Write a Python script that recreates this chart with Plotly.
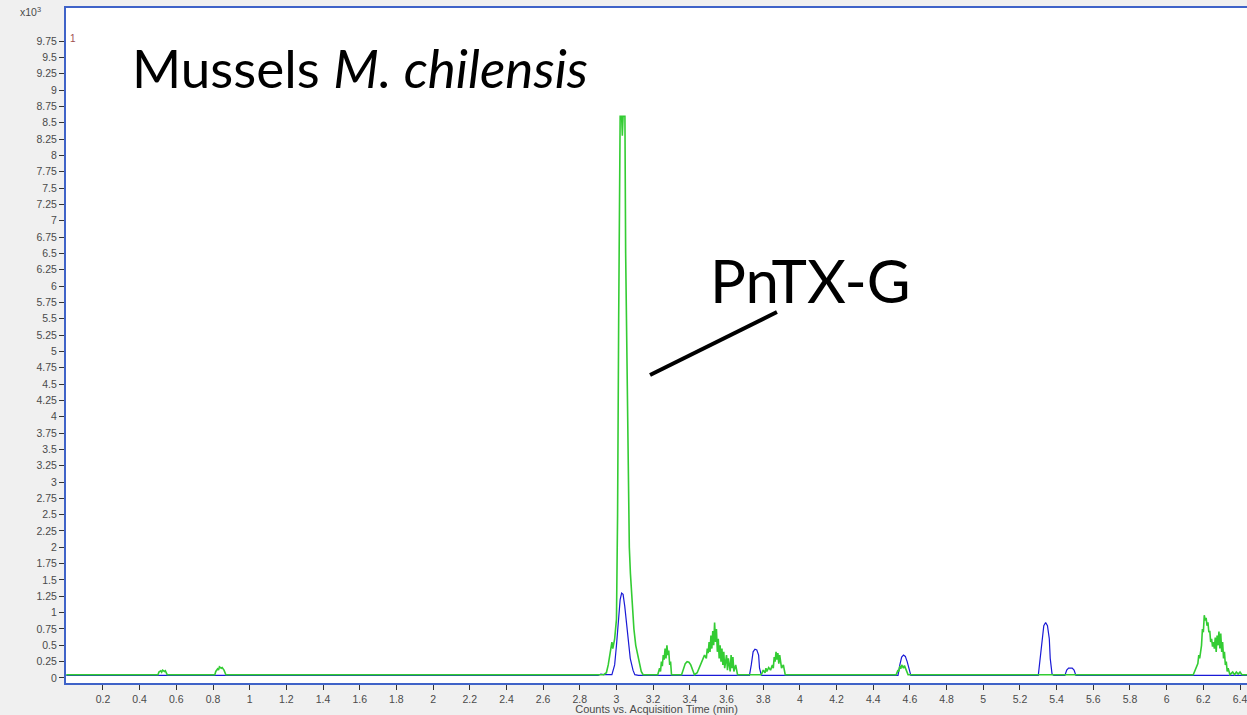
import plotly.graph_objects as go

# Green trace (x10^3 counts) vs acquisition time (min)
green_t = [0.00, 0.50, 0.505, 0.515, 0.52, 0.525, 0.535, 0.54, 0.55,
           0.81, 0.815, 0.825, 0.83, 0.835, 0.845, 0.85, 0.86, 0.87,
           2.93, 2.945, 2.955, 2.965, 2.975, 2.98, 2.99, 3.0, 3.006, 3.012, 3.016, 3.02,
           3.028, 3.032, 3.036, 3.046, 3.05, 3.054, 3.058, 3.064, 3.07, 3.076, 3.085,
           3.095, 3.105, 3.115, 3.125, 3.135, 3.145,
           3.225, 3.235, 3.24, 3.245, 3.25, 3.255, 3.26, 3.265, 3.27, 3.275, 3.28,
           3.285, 3.29, 3.295, 3.30,
           3.355, 3.365, 3.375, 3.385, 3.395, 3.405, 3.415, 3.425,
           3.44, 3.45, 3.46, 3.47, 3.48, 3.49, 3.495, 3.50, 3.505, 3.51, 3.515, 3.52,
           3.525, 3.53, 3.535, 3.54, 3.545, 3.55, 3.555, 3.56, 3.565, 3.57, 3.575,
           3.58, 3.585, 3.59, 3.60, 3.605, 3.61, 3.62, 3.625, 3.63, 3.635, 3.64, 3.65, 3.66,
           3.79, 3.80, 3.81, 3.815, 3.82, 3.83, 3.84, 3.85, 3.855, 3.86, 3.865, 3.87,
           3.875, 3.88, 3.885, 3.89, 3.90, 3.91, 3.92,
           4.525, 4.535, 4.54, 4.545, 4.55, 4.555, 4.565, 4.57, 4.58, 4.59,
           6.145, 6.16, 6.17, 6.175, 6.18, 6.19, 6.195, 6.20, 6.205, 6.21, 6.215, 6.22,
           6.225, 6.23, 6.235, 6.24, 6.245, 6.25, 6.255, 6.26, 6.265, 6.27, 6.275, 6.28,
           6.285, 6.29, 6.295, 6.30, 6.305, 6.31, 6.315, 6.32, 6.325, 6.33, 6.335, 6.345,
           6.36, 6.37, 6.38, 6.39, 6.40, 6.41, 6.45]
green_i = [0.05, 0.05, 0.09, 0.11, 0.09, 0.12, 0.10, 0.11, 0.05,
           0.05, 0.10, 0.14, 0.12, 0.17, 0.15, 0.16, 0.12, 0.05,
           0.05, 0.08, 0.20, 0.35, 0.55, 0.45, 0.60, 0.90, 2.5, 5.5, 8.0, 8.6,
           8.6, 8.3, 8.6, 8.6, 6.5, 5.6, 4.0, 2.8, 2.0, 1.6, 1.1,
           0.75, 0.50, 0.35, 0.20, 0.10, 0.05,
           0.05, 0.15, 0.10, 0.25, 0.18, 0.35, 0.28, 0.45, 0.30, 0.50, 0.35,
           0.42, 0.20, 0.25, 0.05,
           0.05, 0.15, 0.22, 0.25, 0.24, 0.20, 0.12, 0.05,
           0.08, 0.15, 0.22, 0.28, 0.35, 0.30, 0.45, 0.38, 0.55, 0.40, 0.65, 0.45,
           0.72, 0.50, 0.85, 0.55, 0.75, 0.40, 0.60, 0.30, 0.50, 0.25, 0.45,
           0.20, 0.40, 0.15, 0.35, 0.12, 0.30, 0.10, 0.35, 0.15, 0.32, 0.10, 0.20, 0.05,
           0.05, 0.12, 0.08, 0.15, 0.10, 0.16, 0.12, 0.20, 0.15, 0.32, 0.25, 0.40,
           0.28, 0.38, 0.22, 0.35, 0.15, 0.20, 0.05,
           0.05, 0.12, 0.10, 0.18, 0.14, 0.20, 0.15, 0.19, 0.12, 0.05,
           0.05, 0.15, 0.22, 0.35, 0.30, 0.50, 0.75, 0.70, 0.96, 0.88, 0.92, 0.80,
           0.85, 0.70, 0.72, 0.55, 0.60, 0.48, 0.55, 0.45, 0.62, 0.40, 0.65, 0.50,
           0.71, 0.45, 0.68, 0.40, 0.55, 0.30, 0.40, 0.20, 0.25, 0.10, 0.15, 0.05,
           0.09, 0.05, 0.09, 0.06, 0.09, 0.05, 0.05]

# Blue trace
blue_t = [0.00, 2.90, 2.915, 2.93, 2.975, 2.99, 3.0, 3.01, 3.02, 3.028, 3.036, 3.045,
          3.055, 3.065, 3.075, 3.09, 3.10, 3.12,
          3.725, 3.735, 3.745, 3.755, 3.765, 3.775, 3.78, 3.79,
          4.535, 4.545, 4.555, 4.565, 4.575, 4.585, 4.595, 4.605,
          5.30, 5.31, 5.32, 5.33, 5.34, 5.35, 5.36, 5.365, 5.375, 5.385,
          5.445, 5.455, 5.465, 5.485, 5.495, 5.505, 6.45]
blue_i = [0.04, 0.04, 0.06, 0.05, 0.05, 0.20, 0.50, 0.90, 1.20, 1.30, 1.28, 1.10,
          0.80, 0.50, 0.30, 0.12, 0.05, 0.04,
          0.04, 0.20, 0.40, 0.44, 0.43, 0.35, 0.15, 0.04,
          0.04, 0.20, 0.32, 0.35, 0.33, 0.25, 0.15, 0.04,
          0.04, 0.30, 0.60, 0.80, 0.85, 0.80, 0.60, 0.30, 0.06, 0.04,
          0.04, 0.12, 0.15, 0.15, 0.12, 0.04, 0.04]

y_ticks = [i * 0.25 for i in range(40)]
y_text = [("%g" % v) for v in y_ticks]
x_ticks = [round(0.2 * i, 1) for i in range(1, 33)]
x_text = [("%g" % v) for v in x_ticks]

fig = go.Figure()
fig.add_trace(go.Scatter(x=blue_t, y=blue_i, mode="lines",
                         line=dict(color="#1a1ad6", width=1.2), hoverinfo="skip"))
fig.add_trace(go.Scatter(x=green_t, y=green_i, mode="lines",
                         line=dict(color="#33cc33", width=1.6), hoverinfo="skip"))

axis_font = dict(family="Liberation Sans, Arial, sans-serif", size=10.5, color="#4a4a4a")

fig.update_layout(
    width=1247, height=715,
    margin=dict(l=66, r=0, t=8, b=32),
    paper_bgcolor="#f0f0f0", plot_bgcolor="white",
    showlegend=False,
    xaxis=dict(range=[-0.0016, 6.438], tickvals=x_ticks, ticktext=x_text,
               showgrid=False, zeroline=False, showline=True, linecolor="#3f63c8",
               linewidth=2, mirror=True, ticks="outside", ticklen=5, tickcolor="#333",
               tickfont=axis_font, ticklabeloverflow="allow",
               title=dict(text="Counts vs. Acquisition Time (min)", standoff=0,
                          font=dict(family="Liberation Sans, Arial, sans-serif", size=11, color="#4a4a4a"))),
    yaxis=dict(range=[-0.077, 10.256], tickvals=y_ticks, ticktext=y_text,
               showgrid=False, zeroline=False, showline=True, linecolor="#3f63c8",
               linewidth=2, ticks="outside", ticklen=5, tickcolor="#333",
               tickfont=axis_font),
    annotations=[
        dict(xref="paper", yref="paper", x=-0.03, y=0.995, xanchor="center", yanchor="middle",
             text="x10<sup>3</sup>", showarrow=False,
             font=dict(family="Liberation Sans, Arial, sans-serif", size=10.5, color="#4a4a4a")),
        dict(xref="paper", yref="paper", x=0.002, y=0.955, xanchor="left", yanchor="middle",
             text="1", showarrow=False,
             font=dict(family="Liberation Sans, Arial, sans-serif", size=10, color="#a05050")),
        dict(x=1.60, y=9.34, xanchor="center", yanchor="middle",
             text="Mussels <i>M. chilensis</i>", showarrow=False,
             font=dict(family="Lato, Open Sans, sans-serif", size=53, color="black")),
        dict(x=4.06, y=6.09, xanchor="center", yanchor="middle",
             text="PnTX-G", showarrow=False,
             font=dict(family="Lato, Open Sans, sans-serif", size=60, color="black")),
    ],
    shapes=[dict(type="line", x0=3.183, y0=4.638, x1=3.875, y1=5.602,
                 line=dict(color="black", width=4))],
)

fig.write_html("out.html")
